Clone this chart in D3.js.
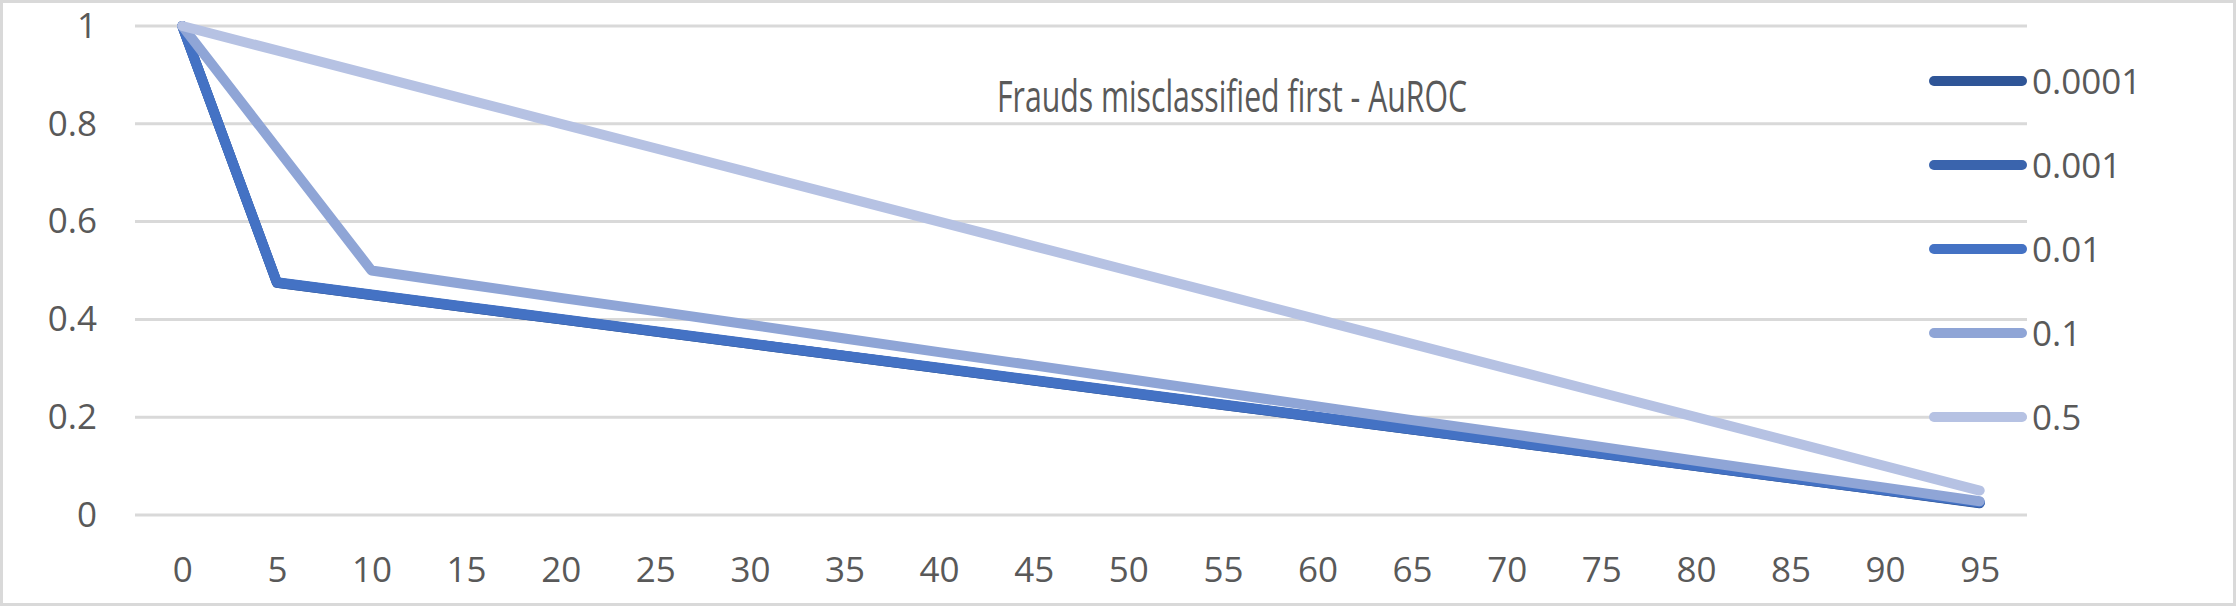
<!DOCTYPE html>
<html>
<head>
<meta charset="utf-8">
<script src="https://cdn.jsdelivr.net/npm/d3@7"></script>
<style>
  body { margin: 0; background: #fff; }
  text { font-family: "Open Sans", sans-serif; fill: #595959; }
</style>
</head>
<body>
<svg width="2236" height="606"></svg>
<script>
// category axis (percentage of frauds misclassified first)
const categories = [0, 5, 10, 15, 20, 25, 30, 35, 40, 45, 50, 55, 60, 65, 70, 75, 80, 85, 90, 95];
const yTicks = [0, 0.2, 0.4, 0.6, 0.8, 1];

const seriesNames = ['0.0001', '0.001', '0.01', '0.1', '0.5'];
const seriesColors = ['#2f5597', '#3a64ad', '#4472c4', '#8fa5d6', '#b6c2e3'];

// values
const s00001 = [1, 0.475, 0.45, 0.425, 0.4, 0.375, 0.35, 0.325, 0.3, 0.275, 0.25, 0.225, 0.2, 0.175, 0.15, 0.125, 0.1, 0.075, 0.05, 0.024];
const s0001  = [1, 0.475, 0.45, 0.425, 0.4, 0.375, 0.35, 0.325, 0.3, 0.275, 0.25, 0.225, 0.2, 0.175, 0.15, 0.125, 0.1, 0.075, 0.05, 0.025];
const s001   = [1, 0.476, 0.451, 0.426, 0.401, 0.376, 0.351, 0.326, 0.301, 0.276, 0.251, 0.226, 0.201, 0.176, 0.151, 0.126, 0.101, 0.076, 0.051, 0.026];
const s01    = [1, 0.75, 0.5, 0.472, 0.444, 0.417, 0.389, 0.361, 0.333, 0.306, 0.278, 0.25, 0.222, 0.194, 0.167, 0.139, 0.111, 0.083, 0.056, 0.028];
const s05    = [1, 0.95, 0.9, 0.85, 0.8, 0.75, 0.7, 0.65, 0.6, 0.55, 0.5, 0.45, 0.4, 0.35, 0.3, 0.25, 0.2, 0.15, 0.1, 0.05];

const seriesValues = [s00001, s0001, s001, s01, s05];

const svg = d3.select('svg');
const width = +svg.attr('width');
const height = +svg.attr('height');

// chart border
svg.append('rect')
  .attr('x', 1.5).attr('y', 1.5)
  .attr('width', width - 3).attr('height', height - 3)
  .attr('fill', '#fff')
  .attr('stroke', '#d9d9d9')
  .attr('stroke-width', 3);

const plot = {left: 135, right: 2027, top: 26, bottom: 515};

const xScale = d3.scalePoint()
  .domain(categories)
  .range([plot.left, plot.right])
  .padding(0.5);

const yScale = d3.scaleLinear()
  .domain([0, 1])
  .range([plot.bottom, plot.top]);

// gridlines
svg.append('g')
  .selectAll('line')
  .data(yTicks)
  .enter().append('line')
  .attr('x1', plot.left)
  .attr('x2', plot.right)
  .attr('y1', d => yScale(d))
  .attr('y2', d => yScale(d))
  .attr('stroke', '#d9d9d9')
  .attr('stroke-width', 3);

// y axis labels
const yAxis = svg.append('g')
  .attr('transform', `translate(${plot.left}, 0)`)
  .call(d3.axisLeft(yScale).tickValues(yTicks).tickSize(0).tickPadding(38).tickFormat(d3.format('~g')));
yAxis.select('.domain').remove();
yAxis.selectAll('text')
  .attr('font-size', 35)
  .style('font-family', '"Open Sans", sans-serif')
  .attr('fill', '#595959');

// x axis labels
const xAxis = svg.append('g')
  .attr('transform', `translate(0, ${plot.bottom})`)
  .call(d3.axisBottom(xScale).tickSize(0).tickPadding(42));
xAxis.select('.domain').remove();
xAxis.selectAll('text')
  .attr('font-size', 35)
  .style('font-family', '"Open Sans", sans-serif')
  .attr('fill', '#595959');

// series lines
const line = d3.line()
  .x((d, i) => xScale(categories[i]))
  .y(d => yScale(d));

svg.append('g')
  .selectAll('path')
  .data(seriesValues)
  .enter().append('path')
  .attr('d', d => line(d))
  .attr('fill', 'none')
  .attr('stroke', (d, i) => seriesColors[i])
  .attr('stroke-width', 10)
  .attr('stroke-linecap', 'round')
  .attr('stroke-linejoin', 'round');

// title
svg.append('text')
  .attr('x', 997)
  .attr('y', 112)
  .attr('font-size', 43)
  .attr('textLength', 470)
  .attr('lengthAdjust', 'spacingAndGlyphs')
  .text('Frauds misclassified first - AuROC');

// legend
const legend = svg.append('g')
  .selectAll('g')
  .data(seriesNames)
  .enter().append('g')
  .attr('transform', (d, i) => `translate(0, ${81 + i * 84})`);

legend.append('line')
  .attr('x1', 1934).attr('x2', 2022)
  .attr('stroke', (d, i) => seriesColors[i])
  .attr('stroke-width', 10)
  .attr('stroke-linecap', 'round');

legend.append('text')
  .attr('x', 2032)
  .attr('dy', '0.36em')
  .attr('font-size', 35)
  .text(d => d);
</script>
</body>
</html>
